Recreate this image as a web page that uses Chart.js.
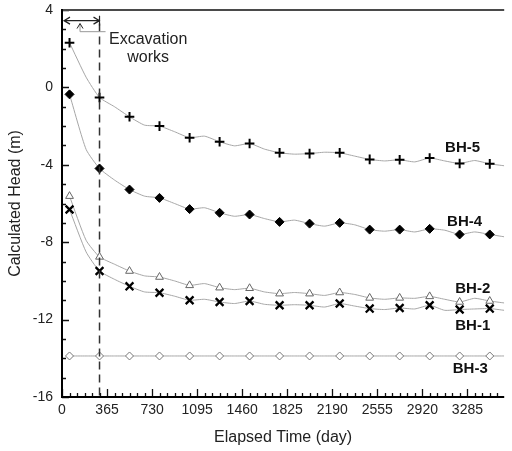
<!DOCTYPE html>
<html>
<head>
<meta charset="utf-8">
<script src="https://cdn.jsdelivr.net/npm/chart.js@4.4.1/dist/chart.umd.min.js"></script>
<style>
    html, body { margin: 0; padding: 0; background: #fff; }
    #wrap { width: 512px; height: 451px; position: relative; }
</style>
</head>
<body>
<div id="wrap"><canvas id="chart-head"></canvas></div>
<script>
// days at which the borehole heads are marked
const markerDays = [61, 304, 547, 790, 1034, 1277, 1520, 1763, 2006, 2250, 2493, 2736, 2979, 3222, 3466];
// extra points of the simulated curve between the markers
const curveDays = [195, 426, 669, 912, 1155, 1398, 1641, 1884, 2128, 2371, 2614, 2858, 3101, 3344, 3583];

const bh5 = [2.31, -0.52, -1.52, -2.0, -2.6, -2.81, -2.9, -3.38, -3.42, -3.38, -3.72, -3.74, -3.65, -3.93, -3.95];
const bh5Curve = [0.53, -1.0, -1.95, -2.29, -2.52, -3.02, -3.19, -3.45, -3.35, -3.55, -3.8, -3.85, -3.8, -3.78, -4.05];

const bh4 = [-0.36, -4.19, -5.28, -5.71, -6.29, -6.48, -6.57, -6.95, -7.04, -7.0, -7.35, -7.35, -7.31, -7.6, -7.6];
const bh4Curve = [-3.2, -4.79, -5.62, -6.0, -6.22, -6.66, -6.78, -6.86, -7.17, -7.1, -7.43, -7.47, -7.38, -7.47, -7.72];

const bh2 = [-5.62, -8.76, -9.49, -9.8, -10.23, -10.35, -10.38, -10.66, -10.66, -10.6, -10.88, -10.88, -10.8, -11.09, -11.04];
const bh2Curve = [-7.9, -9.14, -9.74, -10.0, -10.14, -10.45, -10.57, -10.6, -10.75, -10.7, -10.95, -10.9, -10.95, -10.9, -11.14];

const bh1 = [-6.31, -9.49, -10.28, -10.61, -11.0, -11.09, -11.04, -11.26, -11.26, -11.17, -11.43, -11.4, -11.26, -11.48, -11.43];
const bh1Curve = [-8.5, -9.92, -10.57, -10.79, -10.95, -11.17, -11.21, -11.23, -11.35, -11.3, -11.48, -11.45, -11.52, -11.45, -11.52];

const bh3 = [-13.88, -13.88, -13.88, -13.88, -13.88, -13.88, -13.88, -13.88, -13.88, -13.88, -13.88, -13.88, -13.88, -13.88, -13.88];
const bh3Curve = [-13.88, -13.88, -13.88, -13.88, -13.88, -13.88, -13.88, -13.88, -13.88, -13.88, -13.88, -13.88, -13.88, -13.88, -13.88];

const excavationEnd = 304;
const dayTicks = [0, 365, 730, 1095, 1460, 1825, 2190, 2555, 2920, 3285];
const headTicks = [-16, -12, -8, -4, 0, 4];

// name tags next to each curve (day, head)
const seriesTags = [
    { text: 'BH-5', day: 3246, head: -3.10 },
    { text: 'BH-4', day: 3262, head: -6.95 },
    { text: 'BH-2', day: 3328, head: -10.41 },
    { text: 'BH-1', day: 3328, head: -12.32 },
    { text: 'BH-3', day: 3308, head: -14.52 },
];

const FONT = "'Liberation Sans', Arial, sans-serif";

function curve(values, extra) {
    const pts = markerDays.map((d, i) => ({ x: d, y: values[i] }))
        .concat(curveDays.map((d, i) => ({ x: d, y: extra[i] })));
    return pts.sort((a, b) => a.x - b.x);
}

function markers(values) {
    return markerDays.map((d, i) => ({ x: d, y: values[i] }));
}

function markerSet(values, style, fill, stroke, radius, width) {
    return {
        data: markers(values),
        showLine: false,
        pointStyle: style,
        pointRadius: radius,
        pointBackgroundColor: fill,
        pointBorderColor: stroke,
        pointBorderWidth: width,
    };
}

function curveSet(values, extra) {
    return {
        data: curve(values, extra),
        showLine: true,
        borderColor: '#a6a6a6',
        borderWidth: 1,
        pointRadius: 0,
        tension: 0.18,
    };
}

const frame = {
    id: 'frame',
    afterDatasetsDraw(chart) {
        const { ctx, chartArea: a, scales: { x, y } } = chart;
        ctx.save();

        // end of excavation works
        const xe = x.getPixelForValue(excavationEnd);
        ctx.strokeStyle = '#333';
        ctx.lineWidth = 1.5;
        ctx.setLineDash([8, 5]);
        ctx.beginPath();
        ctx.moveTo(xe, y.getPixelForValue(3.3));
        ctx.lineTo(xe, a.bottom);
        ctx.stroke();
        ctx.setLineDash([]);

        // double arrow spanning the works
        const ya = y.getPixelForValue(3.45);
        const x0 = x.getPixelForValue(0) + 2;
        ctx.strokeStyle = '#222';
        ctx.lineWidth = 1.2;
        ctx.beginPath();
        ctx.moveTo(x0, ya); ctx.lineTo(xe, ya);
        ctx.moveTo(x0 + 6, ya - 3.5); ctx.lineTo(x0, ya); ctx.lineTo(x0 + 6, ya + 3.5);
        ctx.moveTo(xe - 6, ya - 3.5); ctx.lineTo(xe, ya); ctx.lineTo(xe - 6, ya + 3.5);
        ctx.moveTo(xe, ya - 5); ctx.lineTo(xe, ya + 5);
        ctx.stroke();

        // leader to the text
        const xl = x.getPixelForValue(146);
        const yt = y.getPixelForValue(3.3);
        const yc = y.getPixelForValue(2.88);
        ctx.strokeStyle = '#999';
        ctx.lineWidth = 1;
        ctx.beginPath();
        ctx.moveTo(xl, yt); ctx.lineTo(xl, yc); ctx.lineTo(x.getPixelForValue(353), yc);
        ctx.stroke();
        ctx.strokeStyle = '#222';
        ctx.beginPath();
        ctx.moveTo(xl - 3, yt + 5); ctx.lineTo(xl, yt); ctx.lineTo(xl + 3, yt + 5);
        ctx.stroke();

        ctx.fillStyle = '#222';
        ctx.font = '16px ' + FONT;
        ctx.textAlign = 'center';
        ctx.textBaseline = 'middle';
        ctx.fillText('Excavation', x.getPixelForValue(698), y.getPixelForValue(2.45));
        ctx.fillText('works', x.getPixelForValue(698), y.getPixelForValue(1.52));

        ctx.font = 'bold 15px ' + FONT;
        ctx.fillStyle = '#111';
        seriesTags.forEach((t) => {
            ctx.fillText(t.text, x.getPixelForValue(t.day), y.getPixelForValue(t.head));
        });

        // inward tick marks
        ctx.strokeStyle = '#111';
        ctx.lineWidth = 1.3;
        ctx.beginPath();
        for (let v = -16; v <= 4; v++) {
            const py = Math.round(y.getPixelForValue(v)) + 0.5;
            const len = v % 4 === 0 ? 7 : 4;
            ctx.moveTo(a.left, py); ctx.lineTo(a.left + len, py);
        }
        for (let i = 0; i * 365 / 6 <= x.max; i++) {
            const px = Math.round(x.getPixelForValue(i * 365 / 6)) + 0.5;
            const len = i % 6 === 0 ? 8 : 4;
            ctx.moveTo(px, a.bottom); ctx.lineTo(px, a.bottom - len);
        }
        ctx.stroke();

        // frame: heavy left and bottom axes, grey top border
        ctx.lineWidth = 2;
        ctx.strokeStyle = '#4a4a4a';
        ctx.beginPath();
        ctx.moveTo(a.left, a.top); ctx.lineTo(a.right, a.top);
        ctx.stroke();
        ctx.strokeStyle = '#000';
        ctx.beginPath();
        ctx.moveTo(a.left, a.top - 1); ctx.lineTo(a.left, a.bottom); ctx.lineTo(a.right, a.bottom);
        ctx.stroke();

        ctx.restore();
    },
};

new Chart(document.getElementById('chart-head'), {
    type: 'scatter',
    data: {
        datasets: [
            markerSet(bh5, 'cross', '#000', '#000', 4.8, 2),
            markerSet(bh4, 'rectRot', '#000', '#000', 4.5, 1),
            markerSet(bh2, 'triangle', '#fff', '#666', 4.5, 1),
            markerSet(bh1, 'crossRot', '#000', '#000', 5.5, 2.3),
            markerSet(bh3, 'rectRot', '#fff', '#777', 4, 1),
            curveSet(bh5, bh5Curve),
            curveSet(bh4, bh4Curve),
            curveSet(bh2, bh2Curve),
            curveSet(bh1, bh1Curve),
            curveSet(bh3, bh3Curve),
        ],
    },
    options: {
        responsive: true,
        maintainAspectRatio: false,
        animation: false,
        layout: { padding: { top: 10, right: 0, left: 0, bottom: 0 } },
        plugins: {
            legend: { display: false },
            tooltip: { enabled: false },
        },
        scales: {
            x: {
                type: 'linear',
                min: 0,
                max: 3583,
                grid: { display: false, drawTicks: false },
                border: { display: false },
                afterBuildTicks(scale) {
                    scale.ticks = dayTicks.map((v) => ({ value: v }));
                },
                afterFit(scale) {
                    scale.height = 54;
                    scale.paddingLeft = 0;
                    scale.paddingRight = 0;
                },
                ticks: {
                    padding: 5,
                    color: '#222',
                    font: { family: FONT, size: 14 },
                    maxRotation: 0,
                    autoSkip: false,
                    callback: (v) => String(v),
                },
                title: {
                    display: true,
                    text: 'Elapsed Time (day)',
                    color: '#222',
                    font: { family: FONT, size: 16 },
                    padding: { top: 0, bottom: 4 },
                },
            },
            y: {
                min: -16,
                max: 4,
                grid: { display: false, drawTicks: false },
                border: { display: false },
                afterBuildTicks(scale) {
                    scale.ticks = headTicks.map((v) => ({ value: v }));
                },
                afterFit(scale) {
                    scale.width = 62;
                    scale.paddingTop = 0;
                    scale.paddingBottom = 0;
                },
                ticks: {
                    padding: 9,
                    color: '#222',
                    font: { family: FONT, size: 14 },
                    callback: (v) => String(v),
                },
                title: {
                    display: true,
                    text: 'Calculated Head (m)',
                    color: '#222',
                    font: { family: FONT, size: 16 },
                    padding: { top: 6, bottom: 0 },
                },
            },
        },
    },
    plugins: [frame],
});
</script>
</body>
</html>
